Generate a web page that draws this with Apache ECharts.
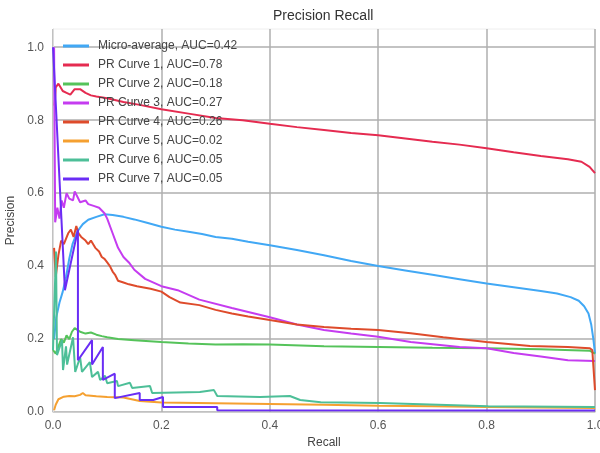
<!DOCTYPE html>
<html>
<head>
<meta charset="utf-8">
<script src="https://cdn.jsdelivr.net/npm/echarts@6/dist/echarts.min.js"></script>
<style>
  html, body { margin: 0; padding: 0; background: #fff; }
  #chart { width: 600px; height: 453px; }
</style>
</head>
<body>
<div id="chart"></div>
<script>
// Precision–recall curves: each array holds [recall, precision] pairs.
const seriesNames = [
  'Micro-average, AUC=0.42',
  'PR Curve 1, AUC=0.78',
  'PR Curve 2, AUC=0.18',
  'PR Curve 3, AUC=0.27',
  'PR Curve 4, AUC=0.26',
  'PR Curve 5, AUC=0.02',
  'PR Curve 6, AUC=0.05',
  'PR Curve 7, AUC=0.05'
];

const microAverage = [
  [0.002,0.2],[0.006,0.26],[0.012,0.3],[0.018,0.33],[0.024,0.37],[0.03,0.42],[0.036,0.46],
  [0.045,0.495],[0.055,0.515],[0.065,0.527],[0.08,0.535],[0.095,0.542],[0.11,0.54],[0.13,0.535],
  [0.15,0.528],[0.175,0.518],[0.2,0.508],[0.225,0.5],[0.25,0.494],[0.275,0.488],[0.3,0.48],
  [0.33,0.475],[0.36,0.467],[0.4,0.457],[0.45,0.444],[0.5,0.43],[0.55,0.414],[0.6,0.4],
  [0.65,0.388],[0.7,0.376],[0.75,0.364],[0.8,0.352],[0.85,0.342],[0.9,0.332],[0.93,0.325],
  [0.955,0.315],[0.97,0.305],[0.98,0.29],[0.988,0.27],[0.993,0.24],[0.997,0.2],[1.0,0.16]
];

const curve1 = [
  [0.003,0.84],[0.005,0.89],[0.01,0.9],[0.018,0.88],[0.025,0.875],[0.032,0.87],[0.04,0.885],
  [0.05,0.885],[0.06,0.875],[0.07,0.868],[0.08,0.865],[0.1,0.86],[0.13,0.85],[0.16,0.842],
  [0.2,0.83],[0.25,0.818],[0.3,0.806],[0.35,0.8],[0.4,0.79],[0.45,0.781],[0.5,0.773],
  [0.55,0.765],[0.6,0.759],[0.65,0.75],[0.7,0.741],[0.75,0.733],[0.8,0.723],[0.85,0.712],
  [0.9,0.702],[0.95,0.693],[0.975,0.686],[0.99,0.672],[1.0,0.655]
];

const curve2 = [
  [0.0,0.17],[0.005,0.16],[0.01,0.18],[0.015,0.2],[0.02,0.19],[0.025,0.21],[0.03,0.2],
  [0.035,0.22],[0.04,0.23],[0.045,0.225],[0.05,0.22],[0.06,0.215],[0.07,0.218],[0.08,0.212],
  [0.09,0.208],[0.1,0.205],[0.12,0.2],[0.15,0.197],[0.2,0.192],[0.25,0.188],[0.3,0.185],
  [0.35,0.186],[0.4,0.185],[0.5,0.18],[0.6,0.178],[0.7,0.176],[0.8,0.175],[0.9,0.172],
  [0.99,0.168],[1.0,0.16]
];

const curve3 = [
  [0.002,1.0],[0.004,0.52],[0.008,0.56],[0.012,0.53],[0.016,0.58],[0.02,0.56],[0.025,0.6],
  [0.03,0.585],[0.037,0.58],[0.04,0.605],[0.045,0.59],[0.05,0.575],[0.06,0.58],[0.065,0.57],
  [0.075,0.565],[0.085,0.56],[0.095,0.545],[0.1,0.53],[0.11,0.49],[0.115,0.47],[0.12,0.45],
  [0.13,0.425],[0.14,0.41],[0.15,0.39],[0.17,0.365],[0.2,0.345],[0.23,0.334],[0.27,0.308],
  [0.33,0.285],[0.4,0.26],[0.45,0.24],[0.5,0.225],[0.55,0.215],[0.6,0.206],[0.66,0.192],
  [0.75,0.178],[0.8,0.175],[0.85,0.162],[0.9,0.152],[0.95,0.142],[1.0,0.14]
];

const curve4 = [
  [0.002,0.45],[0.005,0.37],[0.01,0.43],[0.015,0.47],[0.02,0.46],[0.028,0.49],[0.033,0.5],
  [0.038,0.48],[0.043,0.51],[0.047,0.49],[0.052,0.48],[0.06,0.47],[0.065,0.46],[0.07,0.47],
  [0.078,0.45],[0.085,0.44],[0.09,0.425],[0.095,0.42],[0.1,0.41],[0.105,0.4],[0.11,0.385],
  [0.115,0.375],[0.12,0.36],[0.13,0.355],[0.14,0.35],[0.155,0.345],[0.18,0.338],[0.2,0.33],
  [0.215,0.315],[0.235,0.3],[0.27,0.293],[0.3,0.28],[0.33,0.27],[0.36,0.262],[0.4,0.252],
  [0.45,0.24],[0.5,0.233],[0.55,0.228],[0.6,0.225],[0.66,0.216],[0.72,0.205],[0.8,0.192],
  [0.88,0.181],[0.95,0.178],[0.99,0.175],[0.995,0.17],[1.0,0.06]
];

const curve5 = [
  [0.002,0.005],[0.005,0.02],[0.01,0.035],[0.02,0.042],[0.03,0.044],[0.04,0.043],[0.05,0.047],
  [0.055,0.052],[0.06,0.046],[0.08,0.043],[0.1,0.041],[0.13,0.04],[0.16,0.03],[0.2,0.026],
  [0.3,0.024],[0.4,0.022],[0.5,0.02],[0.6,0.017],[0.7,0.016],[0.8,0.014],[0.9,0.012],[1.0,0.011]
];

const curve6 = [
  [0.0,0.17],[0.0055,0.44],[0.0074,0.156],[0.0166,0.197],[0.0185,0.115],[0.024,0.18],
  [0.026,0.13],[0.037,0.205],[0.041,0.11],[0.05,0.15],[0.0535,0.11],[0.068,0.137],
  [0.072,0.096],[0.083,0.11],[0.087,0.088],[0.096,0.099],[0.1,0.079],[0.118,0.085],
  [0.12,0.071],[0.142,0.08],[0.146,0.066],[0.179,0.071],[0.183,0.052],[0.271,0.055],
  [0.297,0.06],[0.303,0.044],[0.382,0.041],[0.437,0.044],[0.456,0.033],[0.494,0.027],
  [0.603,0.025],[0.803,0.016],[1.0,0.014]
];

const curve7 = [
  [0.0,1.0],[0.022,0.334],[0.046,0.5],[0.046,0.142],[0.072,0.197],[0.072,0.13],[0.092,0.178],
  [0.092,0.088],[0.114,0.105],[0.114,0.038],[0.16,0.052],[0.16,0.033],[0.185,0.033],
  [0.203,0.041],[0.203,0.014],[0.303,0.014],[0.303,0.005],[1.0,0.004]
];

const yTicks = [0, 0.2, 0.4, 0.6, 0.8, 1.0];

const curveData = [microAverage, curve1, curve2, curve3, curve4, curve5, curve6, curve7];
const palette = ['#41a8f5', '#e52b50', '#55c35a', '#c53cf0', '#de4b2b', '#f5a030', '#4dbf98', '#6a2df5'];

const chart = echarts.init(document.getElementById('chart'), null, { renderer: 'canvas' });

chart.setOption({
  animation: false,
  backgroundColor: '#ffffff',
  color: palette,
  title: {
    text: 'Precision Recall',
    left: 273,
    top: 9,
    padding: 0,
    textStyle: { fontFamily: 'Liberation Sans', fontSize: 14, fontWeight: 'normal', color: '#333' }
  },
  grid: {
    left: 53, right: 5, top: 29, bottom: 41,
    outerBoundsMode: 'none',
    containLabel: false,
    show: true, borderColor: '#eeeeee', borderWidth: 1, backgroundColor: '#ffffff'
  },
  legend: {
    orient: 'vertical',
    left: 63, top: 39,
    padding: 0,
    icon: 'path://M0,0H26V3H0Z',
    itemWidth: 26, itemHeight: 3, itemGap: 5,
    textStyle: { fontFamily: 'Liberation Sans', fontSize: 12, color: '#444', lineHeight: 14, padding: [0, 0, 0, 4] },
    data: seriesNames
  },
  xAxis: {
    type: 'value', min: 0, max: 1, interval: 0.2,
    name: 'Recall', nameLocation: 'middle', nameGap: 24,
    nameTextStyle: { fontFamily: 'Liberation Sans', fontSize: 12, color: '#444' },
    axisLine: { show: true, lineStyle: { color: '#cfcfcf', width: 1 } },
    axisTick: { show: false },
    axisLabel: {
      margin: 8, color: '#555', fontFamily: 'Liberation Sans', fontSize: 12,
      formatter: v => v.toFixed(1)
    },
    splitLine: { show: true, lineStyle: { color: '#afafaf', width: 1.5 } }
  },
  yAxis: {
    type: 'value', min: 0, max: 1.05, interval: 0.2,
    name: 'Precision', nameLocation: 'middle', nameGap: 33,
    nameTextStyle: { fontFamily: 'Liberation Sans', fontSize: 12, color: '#444' },
    axisLine: { show: true, lineStyle: { color: '#dcdcdc', width: 1 } },
    axisTick: { show: false },
    axisLabel: {
      margin: 9, color: '#555', fontFamily: 'Liberation Sans', fontSize: 12,
      formatter: v => (yTicks.some(t => Math.abs(t - v) < 1e-9) ? v.toFixed(1) : '')
    },
    splitLine: { show: true, showMaxLine: false, lineStyle: { color: '#afafaf', width: 1.5 } }
  },
  series: curveData.map((d, i) => ({
    name: seriesNames[i],
    type: 'line',
    data: d,
    symbol: 'none',
    showSymbol: false,
    clip: true,
    lineStyle: { width: 2, color: palette[i] },
    itemStyle: { color: palette[i] },
    z: 2 + i
  }))
});
</script>
</body>
</html>
